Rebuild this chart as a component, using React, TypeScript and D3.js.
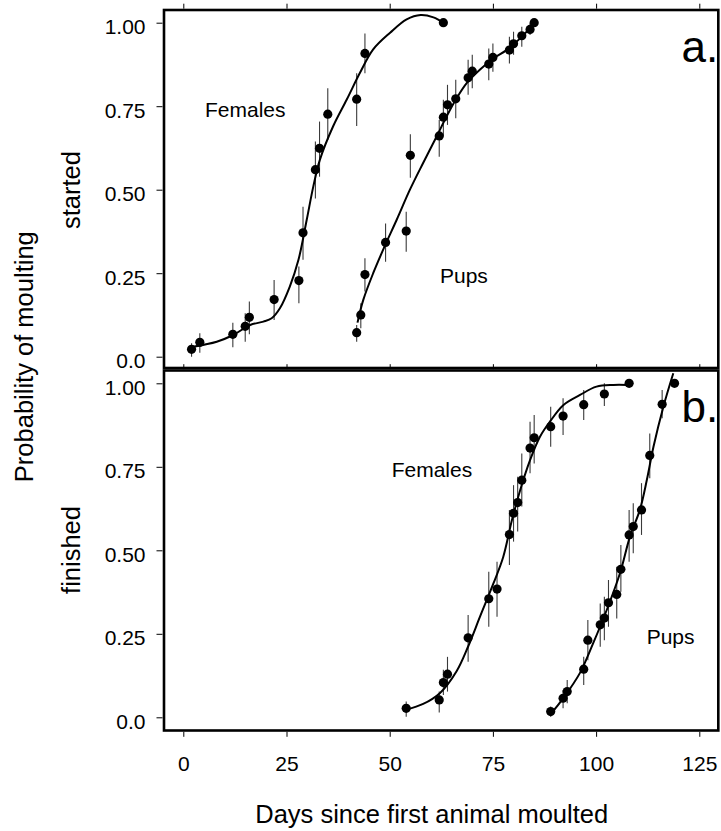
import React, { useEffect, useRef } from 'react';
import * as d3 from 'd3';

// x axis ticks (days) and y axis ticks (probability)
const xTicks = [0, 25, 50, 75, 100, 125];
const yTicks = [0, 0.25, 0.5, 0.75, 1];
const yTickLabels = ['0.0', '0.25', '0.50', '0.75', '1.00'];

// panel a. started moulting - females
const fsDay = [2, 4, 12, 15, 16, 22, 28, 29, 32, 33, 35, 42, 44, 63];
const fsP = [0.022, 0.043, 0.067, 0.091, 0.118, 0.171, 0.228, 0.371, 0.56, 0.624, 0.726, 0.771, 0.908, 1.0];
const fsLo = [0.0, 0.012, 0.028, 0.045, 0.067, 0.11, 0.16, 0.29, 0.474, 0.539, 0.649, 0.691, 0.849, null];
const fsHi = [0.04, 0.07, 0.102, 0.13, 0.165, 0.23, 0.27, 0.449, 0.644, 0.704, 0.804, 0.849, 0.968, null];
const fsCurveDay = [2.4, 8.1, 12.1, 16.2, 19.4, 21.4, 23.4, 25.8, 27.9, 29.9, 31.5, 33.1, 36.3, 39.6, 42.8, 46.0, 50.1, 54.1, 57.5, 60.6, 63];
const fsCurveP = [0.03, 0.045, 0.065, 0.095, 0.105, 0.115, 0.145, 0.21, 0.29, 0.41, 0.51, 0.59, 0.69, 0.77, 0.85, 0.92, 0.97, 1.01, 1.023, 1.016, 1.0];

// panel a. started moulting - pups
const psDay = [42, 43, 44, 49, 54, 55, 62, 63, 64, 66, 69, 70, 74, 75, 79, 80, 82, 84, 85];
const psP = [0.072, 0.125, 0.246, 0.342, 0.376, 0.603, 0.661, 0.717, 0.754, 0.772, 0.835, 0.855, 0.876, 0.896, 0.918, 0.937, 0.961, 0.98, 1.0];
const psLo = [0.045, 0.085, 0.195, 0.284, 0.314, 0.536, 0.599, 0.659, 0.694, 0.714, 0.784, 0.804, 0.828, 0.853, 0.878, 0.904, 0.928, 0.963, null];
const psHi = [0.095, 0.16, 0.295, 0.399, 0.434, 0.666, 0.709, 0.769, 0.814, 0.829, 0.889, 0.904, 0.923, 0.938, 0.958, 0.973, 0.988, 0.998, null];
const psCurveDay = [42.2, 43.6, 46.0, 48.9, 51.7, 54.9, 58.1, 61.4, 63.8, 66.2, 68.7, 71.9, 75.1, 78.3, 81.6, 84.8];
const psCurveP = [0.102, 0.17, 0.25, 0.334, 0.41, 0.5, 0.58, 0.66, 0.72, 0.774, 0.82, 0.86, 0.893, 0.918, 0.953, 0.996];

// panel b. finished moulting - females
const ffDay = [54, 62, 63, 64, 69, 74, 76, 79, 80, 81, 82, 84, 85, 89, 92, 97, 102, 108];
const ffP = [0.027, 0.052, 0.104, 0.129, 0.238, 0.355, 0.384, 0.547, 0.611, 0.643, 0.71, 0.806, 0.837, 0.87, 0.902, 0.936, 0.968, 1.0];
const ffLo = [0.002, 0.014, 0.067, 0.077, 0.166, 0.271, 0.301, 0.456, 0.526, 0.556, 0.631, 0.731, 0.76, 0.81, 0.845, 0.89, 0.932, null];
const ffHi = [0.047, 0.077, 0.142, 0.181, 0.306, 0.436, 0.466, 0.621, 0.695, 0.72, 0.79, 0.885, 0.905, 0.93, 0.955, 0.98, 1.0, null];
const ffCurveDay = [54, 58.1, 62.2, 66.2, 69.0, 71.9, 75.1, 77.5, 79.6, 81.6, 84.0, 86.4, 88.8, 92.1, 96.1, 100.1, 104.2, 107.4];
const ffCurveP = [0.023, 0.04, 0.073, 0.138, 0.212, 0.302, 0.4, 0.48, 0.59, 0.68, 0.77, 0.84, 0.885, 0.935, 0.965, 0.99, 0.995, 0.995];

// panel b. finished moulting - pups
const pfDay = [89, 92, 93, 97, 98, 101, 102, 103, 105, 106, 108, 109, 111, 113, 116, 119];
const pfP = [0.017, 0.057, 0.077, 0.144, 0.231, 0.277, 0.297, 0.343, 0.368, 0.443, 0.546, 0.571, 0.621, 0.784, 0.937, 1.0];
const pfLo = [0.002, 0.027, 0.042, 0.097, 0.171, 0.211, 0.231, 0.271, 0.296, 0.376, 0.466, 0.491, 0.546, 0.716, 0.895, null];
const pfHi = [0.032, 0.082, 0.112, 0.181, 0.291, 0.341, 0.361, 0.411, 0.451, 0.516, 0.621, 0.641, 0.701, 0.85, 0.98, null];
const pfCurveDay = [88.9, 92.1, 96.1, 99.3, 102.6, 105.8, 108.2, 110.6, 112.3, 113.9, 116.3, 118.7];
const pfCurveP = [0.008, 0.058, 0.133, 0.222, 0.322, 0.432, 0.541, 0.621, 0.711, 0.81, 0.93, 1.03];

const FONT = '"Liberation Sans", Arial, Helvetica, sans-serif';

export default function App() {
  const ref = useRef<SVGSVGElement>(null);

  useEffect(() => {
    const svg = d3.select(ref.current);
    svg.selectAll('*').remove();

    const left = 164, right = 718.3;
    const x = d3.scaleLinear().domain([0, 125]).range([183.3, 699.3]);

    const panels = [
      {
        id: 'a', top: 10, bottom: 368, y: d3.scaleLinear().domain([0, 1]).range([356.7, 22.7]),
        series: [
          { day: fsDay, p: fsP, lo: fsLo, hi: fsHi, cd: fsCurveDay, cp: fsCurveP },
          { day: psDay, p: psP, lo: psLo, hi: psHi, cd: psCurveDay, cp: psCurveP },
        ],
        labels: [
          { t: 'Females', x: 205, y: 117.3 },
          { t: 'Pups', x: 440, y: 283.3 },
        ],
        letter: 'a.', letterY: 61.7,
      },
      {
        id: 'b', top: 370.5, bottom: 730.5, y: d3.scaleLinear().domain([0, 1]).range([717.3, 383.3]),
        series: [
          { day: ffDay, p: ffP, lo: ffLo, hi: ffHi, cd: ffCurveDay, cp: ffCurveP },
          { day: pfDay, p: pfP, lo: pfLo, hi: pfHi, cd: pfCurveDay, cp: pfCurveP },
        ],
        labels: [
          { t: 'Females', x: 391.7, y: 477.3 },
          { t: 'Pups', x: 646.7, y: 644 },
        ],
        letter: 'b.', letterY: 421.7,
      },
    ];

    panels.forEach((pn) => {
      const g = svg.append('g');
      const y = pn.y;

      svg.append('clipPath').attr('id', 'clip-' + pn.id)
        .append('rect')
        .attr('x', left).attr('y', pn.top)
        .attr('width', right - left).attr('height', pn.bottom - pn.top);

      pn.series.forEach((s) => {
        // error bars
        s.day.forEach((d, i) => {
          if (s.lo[i] == null) return;
          g.append('line')
            .attr('x1', x(d)).attr('x2', x(d))
            .attr('y1', y(s.lo[i] as number)).attr('y2', y(s.hi[i] as number))
            .attr('stroke', '#3a3a3a').attr('stroke-width', 1.1);
        });

        // fitted curve
        const pts = s.cd.map((d, i) => [d, s.cp[i]] as [number, number]);
        g.append('path')
          .datum(pts)
          .attr('clip-path', `url(#clip-${pn.id})`)
          .attr('fill', 'none')
          .attr('stroke', '#000')
          .attr('stroke-width', 2)
          .attr('d', d3.line<[number, number]>()
            .x((d) => x(d[0]))
            .y((d) => y(d[1]))
            .curve(d3.curveCatmullRom.alpha(0.5)));

        // points
        g.selectAll(null)
          .data(s.day.map((d, i) => ({ d, p: s.p[i] })))
          .enter().append('circle')
          .attr('cx', (d) => x(d.d))
          .attr('cy', (d) => y(d.p))
          .attr('r', 4.6)
          .attr('fill', '#000');
      });

      // frame
      g.append('rect')
        .attr('x', left).attr('y', pn.top)
        .attr('width', right - left).attr('height', pn.bottom - pn.top)
        .attr('fill', 'none').attr('stroke', '#000').attr('stroke-width', 2.6);

      // left axis
      const ya = g.append('g').attr('transform', `translate(${left - 1.5},0)`)
        .call(d3.axisLeft(y).tickValues(yTicks).tickSize(6).tickPadding(11)
          .tickFormat((d, i) => yTickLabels[i]));
      ya.select('.domain').remove();
      ya.selectAll('text').attr('dy', '11px').attr('font-size', 21).attr('font-family', FONT).attr('fill', '#000');
      ya.selectAll('line').attr('stroke', '#000').attr('stroke-width', 1);

      // top ticks
      const xa = g.append('g').attr('transform', `translate(0,${pn.top - 1.3})`)
        .call(d3.axisTop(x).tickValues(xTicks).tickSize(5).tickFormat(() => ''));
      xa.select('.domain').remove();
      xa.selectAll('line').attr('stroke', '#000');

      pn.labels.forEach((l) => {
        g.append('text').attr('x', l.x).attr('y', l.y)
          .attr('font-family', FONT).attr('font-size', 21).text(l.t);
      });
      g.append('text').attr('x', 681.5).attr('y', pn.letterY)
        .attr('font-family', FONT).attr('font-size', 44).text(pn.letter);
    });

    // bottom axis
    const xb = svg.append('g').attr('transform', 'translate(0,731.8)')
      .call(d3.axisBottom(x).tickValues(xTicks).tickSize(5).tickPadding(19));
    xb.select('.domain').remove();
    xb.selectAll('line').attr('stroke', '#000');
    xb.selectAll('text').attr('font-size', 21).attr('font-family', FONT).attr('fill', '#000');

    // axis titles
    svg.append('text').attr('x', 431.7).attr('y', 823)
      .attr('text-anchor', 'middle').attr('font-family', FONT).attr('font-size', 25.5)
      .text('Days since first animal moulted');
    svg.append('text').attr('transform', 'translate(33.3,356.7) rotate(-90)')
      .attr('text-anchor', 'middle').attr('font-family', FONT).attr('font-size', 25.5)
      .text('Probability of moulting');
    svg.append('text').attr('transform', 'translate(80,190) rotate(-90)')
      .attr('text-anchor', 'middle').attr('font-family', FONT).attr('font-size', 25.5)
      .text('started');
    svg.append('text').attr('transform', 'translate(80,550) rotate(-90)')
      .attr('text-anchor', 'middle').attr('font-family', FONT).attr('font-size', 25.5)
      .text('finished');
  }, []);

  return (
    <svg ref={ref} width={721} height={831}
      style={{ position: 'absolute', left: 0, top: 0, background: '#fff' }} />
  );
}
